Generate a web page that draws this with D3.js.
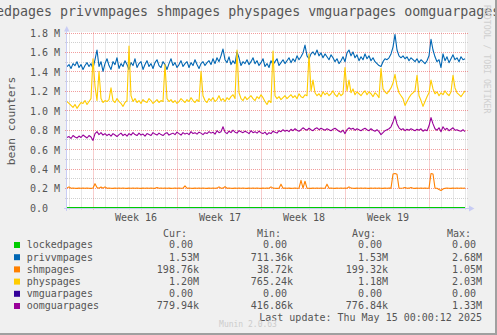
<!DOCTYPE html>
<html><head><meta charset="utf-8">
<script src="https://cdn.jsdelivr.net/npm/d3@7"></script>
<style>
body{margin:0;background:#F0F0F0}
svg{display:block}
text{font-family:"DejaVu Sans Mono",monospace;fill:#555}
</style>
</head><body>
<svg id="c" width="497" height="335"></svg>
<script>
const titleText = "lockedpages privvmpages shmpages physpages vmguarpages oomguarpages";
const yAxisTitle = "bean counters";
const seriesNames = ["lockedpages","privvmpages","shmpages","physpages","vmguarpages","oomguarpages"];
const seriesColors = ["#00CC00","#0066B3","#FF8000","#FFCC00","#330099","#990099"];
const yTickValues = [0,200000,400000,600000,800000,1000000,1200000,1400000,1600000,1800000];
const yTickLabels = ["0.0","0.2 M","0.4 M","0.6 M","0.8 M","1.0 M","1.2 M","1.4 M","1.6 M","1.8 M"];
const legendCur = ["0.00","1.53M","198.76k","1.20M","0.00","779.94k"];
const legendMin = ["0.00","711.36k","38.72k","765.24k","0.00","416.86k"];
const legendAvg = ["0.00","1.53M","199.32k","1.18M","0.00","776.84k"];
const legendMax = ["0.00","2.68M","1.05M","2.03M","0.00","1.33M"];
const lastUpdate = "Last update: Thu May 15 00:00:12 2025";
const versionText = "Munin 2.0.63";
const watermark = "RRDTOOL / TOBI OETIKER";

// samples every 4 hours, values in thousands
const lockedpages = [
0,0,0,0,0,0,0,0,0,0, 0,0,0,0,0,0,0,0,0,0, 0,0,0,0,0,0,0,0,0,0, 0,0,0,0,0,0,0,0,0,0,
0,0,0,0,0,0,0,0,0,0, 0,0,0,0,0,0,0,0,0,0, 0,0,0,0,0,0,0,0,0,0, 0,0,0,0,0,0,0,0,0,0,
0,0,0,0,0,0,0,0,0,0, 0,0,0,0,0,0,0,0,0,0, 0,0,0,0,0,0,0,0,0,0, 0,0,0,0,0,0,0,0,0,0,
0,0,0,0,0,0,0,0,0,0, 0,0,0,0,0,0,0,0,0,0, 0,0,0,0,0,0,0,0,0,0, 0,0,0,0,0,0,0,0,0,0,
0,0,0,0,0,0,0,0,0,0, 0,0,0,0,0,0,0,0,0,0, 0,0,0,0,0,0,0,0,0,0, 0,0,0,0,0,0,0,0,0,0];
const privvmpages = [
1450,1470,1430,1480,1460,1500,1440,1470,1420,1460,
1490,1450,1480,1430,1520,1620,1450,1500,1400,1480,
1530,1460,1420,1500,1470,1540,1430,1480,1450,1510,
1470,1420,1490,1460,1530,1440,1480,1500,1420,1470,
1510,1450,1480,1430,1490,1520,1460,1440,1500,1470,
1420,1480,1530,1460,1490,1440,1470,1510,1450,1480,
1500,1440,1490,1460,1520,1470,1430,1480,1500,1460,
1490,1510,1470,1530,1480,1540,1500,1560,1630,1520,
1490,1550,1470,1510,1480,1600,1540,1460,1500,1480,
1520,1470,1500,1540,1480,1510,1460,1490,1530,1450,
1480,1440,1510,1470,1500,1530,1460,1490,1520,1480,
1510,1540,1490,1530,1500,1560,1520,1550,1590,1670,
1560,1530,1580,1600,1570,1620,1560,1590,1540,1580,
1550,1520,1570,1540,1500,1530,1480,1510,1550,1500,
1590,1620,1560,1600,1540,1570,1510,1550,1520,1580,
1530,1560,1510,1540,1500,1480,1460,1450,1500,1530,
1520,1540,1580,1650,1780,1620,1560,1540,1560,1530,
1550,1510,1540,1520,1500,1530,1490,1520,1500,1480,
1510,1560,1730,1620,1550,1500,1520,1440,1580,1510,
1550,1490,1530,1570,1520,1540,1500,1550,1520,1530];
const shmpages = [
200,212,198,199,198,197,199,198,200,198,
199,198,197,200,245,205,198,210,199,212,
198,199,198,197,199,198,200,198,199,198,
197,199,198,200,198,199,198,197,199,198,
200,198,199,198,197,205,198,199,198,200,
198,199,197,198,200,198,199,198,199,222,
198,199,198,197,199,198,200,198,199,198,
197,199,198,200,198,199,212,198,199,215,
198,199,198,197,199,198,200,198,199,198,
197,199,198,200,198,199,198,197,199,198,
200,198,212,199,198,197,199,240,198,200,
198,199,197,198,200,198,199,280,200,270,
199,198,197,199,198,200,198,199,198,199,
240,198,199,198,197,199,198,200,198,199,
198,212,199,198,197,199,198,200,198,199,
198,197,199,198,200,198,199,198,197,199,
198,200,199,345,350,342,199,198,200,205,
198,199,205,198,197,199,198,200,198,199,
198,199,350,345,199,198,185,175,190,198,
199,198,197,199,198,200,198,199,198,199];
const physpages = [
1090,1070,1050,1030,1060,1020,1050,1080,1070,1100,
1060,1090,1120,1530,1250,1100,1400,1120,1080,1100,
1090,1110,1230,1100,1080,1120,1090,1070,1040,1080,
1100,1660,1150,1090,1120,1080,1100,1070,1110,1090,
1080,1120,1100,1070,1090,1110,1080,1100,1090,1470,
1120,1090,1110,1080,1100,1070,1090,1120,1100,1080,
1110,1090,1130,1100,1080,1110,1090,1400,1150,1100,
1080,1120,1100,1130,1090,1110,1150,1100,1120,1090,
1130,1110,1140,1160,1120,1620,1180,1120,1100,1140,
1110,1130,1150,1120,1100,1140,1120,1160,1130,1090,
1060,1100,1080,1610,1150,1120,1140,1110,1130,1150,
1120,1140,1160,1130,1150,1120,1170,1140,1130,1160,
1150,1580,1200,1310,1180,1150,1170,1140,1190,1160,
1180,1150,1170,1200,1160,1140,1180,1150,1170,1440,
1200,1310,1180,1220,1160,1190,1170,1150,1180,1200,
1160,1190,1170,1140,1180,1160,1130,1430,1220,1190,
1170,1200,1230,1280,1370,1250,1180,1150,1120,1050,
1090,1130,1160,1180,1200,1360,1150,1100,1040,1090,
1140,1180,1310,1220,1170,1190,1150,1180,1160,1200,
1170,1150,1190,1360,1230,1180,1160,1140,1170,1200];
const vmguarpages = [
0,0,0,0,0,0,0,0,0,0, 0,0,0,0,0,0,0,0,0,0, 0,0,0,0,0,0,0,0,0,0, 0,0,0,0,0,0,0,0,0,0,
0,0,0,0,0,0,0,0,0,0, 0,0,0,0,0,0,0,0,0,0, 0,0,0,0,0,0,0,0,0,0, 0,0,0,0,0,0,0,0,0,0,
0,0,0,0,0,0,0,0,0,0, 0,0,0,0,0,0,0,0,0,0, 0,0,0,0,0,0,0,0,0,0, 0,0,0,0,0,0,0,0,0,0,
0,0,0,0,0,0,0,0,0,0, 0,0,0,0,0,0,0,0,0,0, 0,0,0,0,0,0,0,0,0,0, 0,0,0,0,0,0,0,0,0,0,
0,0,0,0,0,0,0,0,0,0, 0,0,0,0,0,0,0,0,0,0, 0,0,0,0,0,0,0,0,0,0, 0,0,0,0,0,0,0,0,0,0];
const oomguarpages = [
720,730,710,740,725,715,735,720,745,730,
715,740,725,690,760,780,750,770,745,760,
740,755,735,760,745,730,750,765,740,755,
735,760,745,770,750,740,765,745,755,735,
760,750,740,770,755,745,765,750,740,760,
770,745,755,765,750,775,760,745,770,755,
765,750,780,760,770,755,775,765,750,770,
760,780,765,775,755,790,770,780,830,775,
760,785,770,795,775,765,790,780,770,785,
775,760,790,770,780,765,785,770,760,775,
750,770,760,785,775,765,790,780,800,785,
795,780,805,790,810,795,785,800,820,805,
795,815,800,790,810,820,800,815,805,795,
810,800,790,805,815,800,785,775,795,760,
800,820,805,815,795,810,800,790,805,815,
800,790,810,795,785,800,780,750,770,790,
800,810,830,880,940,860,820,800,810,790,
805,795,810,800,790,805,795,810,785,800,
790,840,925,860,810,795,820,780,830,800,
815,790,805,820,795,800,790,785,800,780];

const seriesData = [lockedpages,privvmpages,shmpages,physpages,vmguarpages,oomguarpages];

const HOUR = 3600e3;
const firstMonday = Date.UTC(2025,3,14);
const t0 = new Date(firstMonday - 52*HOUR);
const t1 = new Date(t0.getTime() + 800*HOUR);
const stepMs = 4*HOUR;

const svg = d3.select("#c");
const W = 497, H = 335;
const L = 67, R = 467, T = 32.5, B = 207.5;

const x = d3.scaleUtc().domain([t0,t1]).range([L,R]);
const y = d3.scaleLinear().domain([0,1800000]).range([B,T]);

svg.append("rect").attr("width",W).attr("height",H).attr("fill","#F0F0F0");
svg.append("rect").attr("x",L).attr("y",32).attr("width",R-L).attr("height",176).attr("fill","#FFFFFF");

// grid
const g = svg.append("g");
const minorY = d3.range(1,18,2).map(k=>k*100000);
g.selectAll(".my").data(minorY).join("line")
  .attr("x1",L-2).attr("x2",R+2).attr("y1",d=>Math.round(y(d))+0.5).attr("y2",d=>Math.round(y(d))+0.5)
  .attr("stroke","#CFCFCF").attr("stroke-dasharray","1,1");
const mondays = d3.utcMonday.range(t0,t1);
const days = d3.utcDay.range(t0,t1).filter(d=>d.getUTCDay()!==1);
g.selectAll(".mx").data(days).join("line")
  .attr("x1",d=>Math.round(x(d))+0.5).attr("x2",d=>Math.round(x(d))+0.5)
  .attr("y1",T).attr("y2",B+3)
  .attr("stroke","#CFCFCF").attr("stroke-dasharray","1,1");
g.selectAll(".My").data(yTickValues.slice(1)).join("line")
  .attr("x1",L-2).attr("x2",R+2).attr("y1",d=>Math.round(y(d))+0.5).attr("y2",d=>Math.round(y(d))+0.5)
  .attr("stroke","rgba(230,60,60,0.5)").attr("stroke-dasharray","1,1");
g.selectAll(".Mx").data(mondays).join("line")
  .attr("x1",d=>Math.round(x(d))+0.5).attr("x2",d=>Math.round(x(d))+0.5)
  .attr("y1",T).attr("y2",B+3)
  .attr("stroke","rgba(230,60,60,0.5)").attr("stroke-dasharray","1,1");

// y tick labels
svg.selectAll(".yl").data(yTickValues).join("text")
  .attr("x",30).attr("y",d=>y(d)+4.4).attr("font-size","10px").text((d,i)=>yTickLabels[i]);

// week labels
const weekLabels = mondays.map(m=>new Date(m.getTime()+84*HOUR)).filter(d=>x(d)<R);
svg.selectAll(".xl").data(weekLabels).join("text")
  .attr("x",d=>x(d)+1).attr("y",220.7).attr("text-anchor","middle").attr("font-size","10px")
  .text(d=>"Week "+d3.utcFormat("%V")(new Date(d.getTime()-84*HOUR)));

// lines
const line = d3.line().x((d,i)=>x(new Date(t0.getTime()+i*stepMs))).y(d=>y(d*1000));
const drawOrder = [4,0,1,2,3,5];
drawOrder.forEach(k=>{
  svg.append("path").datum(seriesData[k]).attr("d",line)
    .attr("fill","none").attr("stroke",seriesColors[k]).attr("stroke-width",1.1)
    .attr("stroke-linejoin","round");
});

// axes
const axisColor = "#C8CCF4";
svg.append("line").attr("x1",L-3).attr("x2",R+2).attr("y1",208.5).attr("y2",208.5).attr("stroke",axisColor);
svg.append("line").attr("x1",66.5).attr("x2",66.5).attr("y1",211).attr("y2",31).attr("stroke",axisColor);
svg.append("path").attr("d","M64,31.5L69.5,31.5L66.75,26Z").attr("fill",axisColor);
svg.append("path").attr("d","M469,205.5L469,211.5L474.5,208.5Z").attr("fill",axisColor);

// title
svg.append("text").attr("x",-36).attr("y",16).attr("font-size","13.3px").text(titleText);
// y axis title
svg.append("text").attr("transform","translate(14.5,121) rotate(-90)").attr("text-anchor","middle")
  .attr("font-size","11.3px").text(yAxisTitle);
// watermark
svg.append("text").attr("transform","translate(484,5) rotate(90)").attr("font-size","8.2px")
  .style("fill","#CFCFCF").text(watermark);

// legend
const rowY = i => 248.3 + 12.2*i;
const headers = [["Cur:",163],["Min:",257],["Avg:",352],["Max:",447]];
headers.forEach(h=>svg.append("text").attr("x",h[1]).attr("y",236.7).attr("font-size","10px").text(h[0]));
const cols = [[legendCur,199],[legendMin,293],[legendAvg,388],[legendMax,482]];
seriesNames.forEach((n,i)=>{
  svg.append("rect").attr("x",14).attr("y",rowY(i)-6.3).attr("width",6).attr("height",6).attr("fill",seriesColors[i]);
  svg.append("text").attr("x",26.7).attr("y",rowY(i)).attr("font-size","10px").text(n);
  cols.forEach(c=>{
    const v = c[0][i];
    const hasUnit = /[kM]$/.test(v);
    svg.append("text").attr("x",hasUnit?c[1]:c[1]-6).attr("y",rowY(i)).attr("text-anchor","end")
      .attr("font-size","10px").text(v);
  });
});
svg.append("text").attr("x",482).attr("y",321).attr("text-anchor","end").attr("font-size","10px").text(lastUpdate);
svg.append("text").attr("x",248).attr("y",327).attr("text-anchor","middle").attr("font-size","8px")
  .style("fill","#CCCCCC").text(versionText);

// border
svg.append("rect").attr("x",0).attr("y",333).attr("width",W).attr("height",2).attr("fill","#A0A0A0");
svg.append("rect").attr("x",495).attr("y",0).attr("width",2).attr("height",H).attr("fill","#A0A0A0");
</script>
</body></html>
